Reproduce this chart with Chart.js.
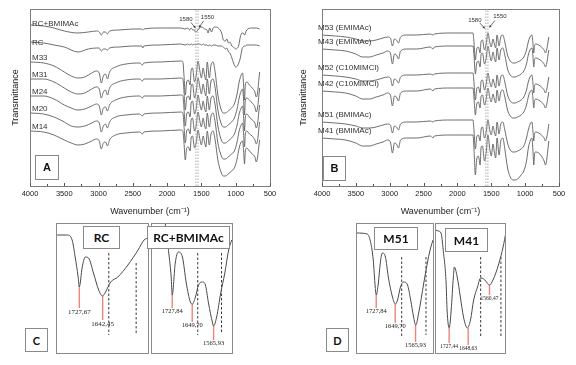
<!DOCTYPE html>
<html>
<head>
<meta charset="utf-8">
<script src="https://cdn.jsdelivr.net/npm/chart.js@4.4.0/dist/chart.umd.min.js"></script>
<style>
html, body { margin: 0; padding: 0; background: #fff; }
body { width: 576px; height: 365px; position: relative; overflow: hidden; }
canvas { position: absolute; }
.tag {
    position: absolute; box-sizing: border-box; border: 1px solid #8a8a8a; background: #fff;
    display: flex; align-items: center; justify-content: center;
    font-family: Lato, "Liberation Sans", sans-serif; font-weight: 700; font-size: 12px; color: #111; z-index: 5;
}
</style>
</head>
<body>
<canvas id="chartA" style="left:0;top:0" width="290" height="225"></canvas>
<canvas id="chartB" style="left:290px;top:0" width="286" height="225"></canvas>
<canvas id="zoomRC" style="left:56px;top:223px" width="93" height="131"></canvas>
<canvas id="zoomRCB" style="left:151px;top:223px" width="82" height="131"></canvas>
<canvas id="zoomM51" style="left:356px;top:223px" width="78" height="131"></canvas>
<canvas id="zoomM41" style="left:435px;top:223px" width="71" height="131"></canvas>
<div class="tag" style="left:83px;top:226px;width:37px;height:23px">RC</div>
<div class="tag" style="left:147px;top:226px;width:83px;height:23px">RC+BMIMAc</div>
<div class="tag" style="left:374px;top:227px;width:44px;height:23px">M51</div>
<div class="tag" style="left:445px;top:228px;width:43px;height:24px">M41</div>
<div class="tag" style="left:25px;top:328px;width:23px;height:24px;font-size:11px">C</div>
<div class="tag" style="left:326px;top:328px;width:23px;height:24px;font-size:11px">D</div>
<script>
Chart.defaults.font.family = '"Liberation Sans", Arial, sans-serif';

// wavenumber grid (cm-1) shared by the membrane spectra
const waveM = [4000, 3800, 3650, 3500, 3400, 3300, 3200, 3100, 3030, 2990,
    2960, 2930, 2900, 2870, 2840, 2750, 2600, 2400, 2360, 2340,
    2100, 1800, 1770, 1755, 1735, 1715, 1690, 1665, 1650, 1630,
    1600, 1575, 1550, 1520, 1500, 1475, 1455, 1435, 1415, 1385,
    1360, 1330, 1300, 1260, 1220, 1180, 1150, 1110, 1060, 1020,
    980, 950, 920, 900, 885, 872, 860, 840, 800, 760,
    720, 700, 680, 660, 650];

// panel A, transmittance (a.u., stacked)
const tM33 = [121, 120, 117, 111, 107, 105, 106, 110, 112, 110, 100, 107, 109, 104, 111, 116, 119, 120, 118, 120,
    121, 122, 121, 108, 88, 101, 103, 98, 113, 115, 101, 108, 122, 111, 105, 115, 108, 103, 121, 105,
    118, 121, 111, 88, 75, 70, 70, 72, 75, 79, 89, 101, 108, 110, 98, 83, 98, 101, 98, 95,
    91, 86, 91, 105, 111];
const tM31 = [104, 104, 101, 95, 91, 89, 90, 94, 96, 94, 85, 91, 93, 88, 95, 100, 103, 104, 102, 104,
    104, 105, 104, 92, 73, 85, 87, 83, 97, 99, 85, 92, 105, 95, 89, 99, 92, 87, 104, 89,
    102, 104, 95, 73, 61, 56, 56, 58, 61, 65, 74, 85, 92, 94, 83, 68, 83, 85, 83, 80,
    76, 71, 76, 89, 95];
const tM24 = [87, 87, 84, 78, 75, 73, 74, 77, 79, 77, 68, 75, 76, 72, 78, 83, 86, 87, 85, 87,
    87, 88, 87, 75, 57, 69, 71, 66, 80, 82, 69, 75, 88, 78, 73, 82, 75, 71, 87, 73,
    85, 87, 78, 57, 45, 40, 40, 42, 45, 49, 58, 69, 75, 77, 66, 52, 66, 69, 66, 63,
    60, 55, 60, 73, 78];
const tM20 = [70, 69, 66, 61, 57, 56, 57, 60, 62, 60, 51, 57, 59, 55, 61, 66, 68, 69, 67, 69,
    70, 71, 70, 58, 40, 52, 54, 49, 63, 65, 52, 58, 71, 61, 56, 65, 58, 54, 70, 56,
    67, 70, 61, 40, 29, 24, 24, 26, 29, 32, 41, 52, 58, 60, 49, 36, 49, 52, 49, 47,
    43, 39, 43, 56, 61];
const tM14 = [52, 51, 48, 43, 40, 38, 39, 42, 44, 42, 34, 40, 41, 37, 43, 48, 50, 51, 49, 51,
    52, 53, 52, 41, 23, 35, 36, 32, 45, 47, 35, 41, 53, 43, 38, 47, 41, 36, 52, 38,
    49, 52, 43, 23, 12, 7, 7, 9, 12, 15, 24, 35, 41, 42, 32, 19, 32, 35, 32, 29,
    26, 21, 26, 38, 43];

// regenerated cellulose spectra (panel A, top)
const waveRC = [4000, 3800, 3650, 3500, 3300, 3150, 3030, 2990, 2960, 2930,
    2900, 2870, 2840, 2700, 2500, 2370, 2355, 2340, 2100, 1800,
    1740, 1700, 1674, 1650, 1626, 1600, 1586, 1565, 1550, 1530,
    1501, 1470, 1452, 1420, 1403, 1380, 1353, 1330, 1303, 1254,
    1205, 1180, 1150, 1130, 1106, 1085, 1056, 1032, 1000, 975,
    955, 933, 908, 893, 870, 859, 839, 765, 700, 650];
const tRCBMIMAc = [158, 157, 155, 152, 150, 151, 152, 151, 148, 151, 151, 149, 152, 153, 154, 154, 153, 154, 155, 155,
    154, 155, 153, 155, 153, 153, 151, 152, 153, 155, 156, 155, 154, 153, 150, 155, 151, 155, 156, 155,
    150, 143, 142, 144, 140, 141, 137, 136, 134, 135, 138, 146, 150, 150, 148, 150, 153, 155, 155, 154];
const tRC = [141, 140, 138, 136, 131, 134, 135, 135, 132, 134, 134, 133, 135, 136, 137, 137, 135, 137, 138, 139,
    138, 139, 138, 139, 138, 139, 138, 139, 139, 139, 138, 139, 138, 138, 137, 138, 137, 138, 138, 137,
    137, 136, 134, 135, 131, 130, 125, 120, 116, 117, 120, 125, 134, 136, 137, 137, 138, 138, 138, 137];

// panel B
const tM53 = [148, 147, 146, 144, 142, 142, 143, 145, 146, 145, 137, 144, 143, 140, 146, 148, 148, 149, 148, 149,
    150, 150, 150, 140, 123, 134, 136, 130, 142, 143, 133, 139, 150, 140, 136, 144, 139, 135, 148, 137,
    146, 148, 141, 128, 122, 120, 120, 121, 123, 126, 133, 142, 147, 148, 140, 130, 138, 139, 138, 136,
    133, 130, 134, 142, 146];
const tM43 = [134, 133, 132, 129, 126, 126, 128, 130, 132, 130, 119, 129, 128, 124, 132, 134, 134, 136, 134, 136,
    137, 137, 137, 127, 109, 120, 122, 116, 129, 130, 119, 125, 137, 127, 122, 131, 125, 121, 135, 123,
    133, 135, 128, 114, 108, 106, 106, 107, 109, 112, 119, 129, 134, 135, 127, 116, 124, 125, 124, 122,
    119, 116, 120, 129, 133];
const tM52 = [108, 107, 106, 104, 102, 102, 103, 105, 106, 105, 97, 104, 103, 100, 106, 108, 108, 109, 108, 109,
    110, 110, 110, 100, 83, 94, 96, 90, 102, 103, 93, 99, 110, 100, 96, 104, 99, 95, 108, 97,
    106, 108, 101, 88, 82, 80, 80, 81, 83, 86, 93, 102, 107, 108, 100, 90, 98, 99, 98, 96,
    93, 90, 94, 102, 106];
const tM42 = [92, 91, 90, 87, 84, 84, 86, 88, 90, 88, 77, 87, 86, 82, 90, 92, 92, 94, 92, 94,
    95, 95, 95, 85, 68, 79, 81, 75, 87, 88, 78, 84, 95, 85, 81, 89, 84, 80, 93, 82,
    91, 93, 86, 73, 67, 65, 65, 66, 68, 71, 78, 87, 92, 93, 85, 75, 83, 84, 83, 81,
    78, 75, 79, 87, 91];
const tM51 = [61, 60, 59, 57, 55, 55, 56, 58, 59, 58, 50, 57, 56, 53, 59, 61, 61, 62, 61, 62,
    63, 63, 63, 52, 34, 46, 48, 42, 54, 56, 45, 51, 63, 52, 48, 57, 51, 47, 61, 49,
    59, 61, 53, 40, 33, 31, 31, 32, 34, 37, 45, 54, 60, 61, 52, 42, 50, 51, 50, 48,
    45, 42, 46, 54, 59];
const tM41 = [45, 44, 43, 40, 37, 37, 39, 41, 43, 41, 30, 40, 39, 35, 43, 45, 45, 47, 45, 47,
    48, 48, 48, 33, 8, 24, 27, 18, 36, 37, 22, 31, 48, 33, 27, 39, 31, 25, 45, 28,
    42, 45, 34, 15, 6, 3, 3, 4, 8, 12, 22, 36, 43, 45, 33, 18, 30, 31, 30, 27,
    22, 18, 24, 36, 42];

const xTicks = [4000, 3500, 3000, 2500, 2000, 1500, 1000, 500];
const bandLines = [1580, 1550];
const bandLabels = ['1580', '1550'];

// expanded carbonyl region (panels C and D)
const rcWave = [1809, 1772, 1754, 1743, 1732, 1728, 1717, 1706, 1694, 1676, 1657, 1643, 1632, 1613, 1587, 1550, 1513, 1491, 1476];
const rcT = [118, 118, 113, 96, 76, 66, 86, 96, 95, 80, 63, 57, 61, 71, 76, 88, 103, 113, 115];
const rcPeaks = [1727.67, 1642.45];
const rcPeakT = [66, 57];
const rcPeakEnd = [45, 33];
const rcPeakLabels = ['1727,67', '1642,45'];
const rcGuides = [1620, 1520];
const rcGuideTop = [100, 90];
const rcGuideEnd = [18, 20];

const rcbWave = [1756, 1748, 1744, 1732, 1728, 1716, 1704, 1688, 1673, 1657, 1649, 1637, 1625, 1609, 1598, 1586, 1570, 1566, 1554, 1538, 1522, 1507, 1495];
const rcbT = [131, 116, 106, 76, 58, 90, 101, 96, 70, 51, 49, 56, 68, 71, 68, 50, 30, 27, 36, 60, 80, 103, 113];
const rcbPeaks = [1727.84, 1649.70, 1565.93];
const rcbPeakT = [58, 49, 27];
const rcbPeakEnd = [45, 31, 13];
const rcbPeakLabels = ['1727,84', '1649,70', '1565,93'];
const rcbGuides = [1628, 1535];
const rcbGuideTop = [100, 100];
const rcbGuideEnd = [18, 20];

const m51Wave = [1807, 1765, 1753, 1740, 1732, 1728, 1719, 1711, 1703, 1690, 1678, 1661, 1649, 1640, 1628, 1615, 1599, 1586, 1574, 1565, 1553, 1532, 1515, 1503, 1494];
const m51T = [120, 119, 113, 93, 66, 58, 70, 90, 100, 96, 76, 56, 49, 53, 66, 71, 68, 53, 36, 28, 40, 70, 93, 106, 113];
const m51Peaks = [1727.84, 1649.70, 1565.93];
const m51PeakT = [58, 49, 28];
const m51PeakEnd = [45, 30, 11];
const m51PeakLabels = ['1727,84', '1649,70', '1565,93'];
const m51Guides = [1623, 1523];
const m51GuideTop = [96, 96];
const m51GuideEnd = [15, 18];

const m41Wave = [1782, 1773, 1761, 1752, 1740, 1736, 1727, 1719, 1710, 1706, 1694, 1681, 1668, 1652, 1639, 1626, 1610, 1597, 1584, 1576, 1560, 1546, 1534, 1521, 1504, 1492];
const m41T = [123, 122, 120, 103, 70, 43, 25, 43, 76, 86, 76, 56, 36, 25, 33, 53, 66, 75, 74, 72, 68, 73, 80, 90, 106, 121];
const m41Peaks = [1727.44, 1648.63, 1560.47];
const m41PeakT = [25, 25, 68];
const m41PeakEnd = [10, 8, 58];
const m41PeakLabels = ['1727,44', '1648,63', '1560,47'];
const m41Guides = [1597, 1513];
const m41GuideTop = [96, 96];
const m41GuideEnd = [16, 16];


function spectrum(wave, values, name, nameDy) {
    return {
        label: name,
        data: wave.map((w, i) => ({x: w, y: values[i]})),
        borderColor: '#5e5e5e',
        borderWidth: 0.9,
        pointRadius: 0,
        cubicInterpolationMode: 'monotone',
        showName: true,
        nameDy: nameDy
    };
}

function vLine(w, top, bottom, color, width, dash) {
    return {
        label: '',
        data: [{x: w, y: top}, {x: w, y: bottom}],
        borderColor: color,
        borderWidth: width,
        borderDash: dash,
        pointRadius: 0
    };
}

function strokeLine(ctx, x0, y0, x1, y1) {
    ctx.beginPath();
    ctx.moveTo(x0, y0);
    ctx.lineTo(x1, y1);
    ctx.stroke();
}

const spectraDeco = {
    id: 'spectraDeco',
    afterDraw(chart, args, o) {
        const {ctx, chartArea: a, scales: {x, y}} = chart;
        ctx.save();
        ctx.strokeStyle = '#7d7d7d';
        ctx.lineWidth = 1;
        ctx.strokeRect(Math.round(a.left) + 0.5, Math.round(a.top) + 0.5, Math.round(a.right - a.left), Math.round(a.bottom - a.top));

        // inward tick marks
        ctx.strokeStyle = '#555';
        xTicks.forEach((v, i) => {
            const px = Math.round(x.getPixelForValue(v)) + 0.5;
            strokeLine(ctx, px, a.bottom, px, a.bottom - 3);
            if (i < xTicks.length - 1) {
                const pm = Math.round(x.getPixelForValue((v + xTicks[i + 1]) / 2)) + 0.5;
                strokeLine(ctx, pm, a.bottom, pm, a.bottom - 2);
            }
        });

        // curve names
        ctx.font = '8px "Liberation Sans"';
        ctx.fillStyle = '#333';
        ctx.textAlign = 'left';
        ctx.textBaseline = 'alphabetic';
        chart.data.datasets.forEach(ds => {
            if (!ds.showName) return;
            const py = y.getPixelForValue(ds.data[0].y);
            ctx.fillText(ds.label, a.left + o.nameDx, py + ds.nameDy);
        });

        // 1580 / 1550 notes with arrows
        ctx.font = '6px "Liberation Sans"';
        ctx.textAlign = 'center';
        ctx.textBaseline = 'middle';
        ctx.strokeStyle = '#333';
        ctx.lineWidth = 0.7;
        bandLines.forEach((w, i) => {
            const n = o.notes[i];
            const px = x.getPixelForValue(w);
            ctx.fillText(bandLabels[i], px + n.tx, a.top + n.ty);
            const x0 = px + n.ax, y0 = a.top + n.ay;
            const x1 = px + n.bx, y1 = a.top + n.by;
            strokeLine(ctx, x0, y0, x1, y1);
            const ang = Math.atan2(y1 - y0, x1 - x0);
            ctx.beginPath();
            ctx.moveTo(x1, y1);
            ctx.lineTo(x1 - 2.5 * Math.cos(ang - 0.5), y1 - 2.5 * Math.sin(ang - 0.5));
            ctx.lineTo(x1 - 2.5 * Math.cos(ang + 0.5), y1 - 2.5 * Math.sin(ang + 0.5));
            ctx.closePath();
            ctx.fill();
        });

        // panel letter
        const b = o.box;
        ctx.fillStyle = '#fff';
        ctx.fillRect(a.left + b.dx, a.bottom - b.dy, b.w, b.h);
        ctx.strokeStyle = '#8a8a8a';
        ctx.lineWidth = 1;
        ctx.strokeRect(a.left + b.dx + 0.5, a.bottom - b.dy + 0.5, b.w, b.h);
        ctx.fillStyle = '#111';
        ctx.font = 'bold 11px "Liberation Sans"';
        ctx.fillText(o.letter, a.left + b.dx + b.w / 2 + 0.5, a.bottom - b.dy + b.h / 2 + 1);
        ctx.restore();
    }
};

const zoomDeco = {
    id: 'zoomDeco',
    afterDraw(chart, args, o) {
        const {ctx, chartArea: a, scales: {x, y}} = chart;
        ctx.save();
        ctx.strokeStyle = '#8a8a8a';
        ctx.lineWidth = 1;
        ctx.strokeRect(a.left + 0.5, a.top + 0.5, a.right - a.left - 1, a.bottom - a.top - 1);
        ctx.fillStyle = '#222';
        ctx.font = o.labelSize + 'px "Liberation Serif"';
        ctx.textAlign = 'center';
        ctx.textBaseline = 'top';
        o.peaks.forEach((w, i) => {
            ctx.fillText(o.labels[i], x.getPixelForValue(w), y.getPixelForValue(o.ends[i]) + 0.5);
        });
        ctx.restore();
    }
};

function mainChart(id, datasets, cfg) {
    const bands = bandLines.map(w => vLine(w, -3, 174, '#9a9a9a', 0.8, [1.5, 1.5]));
    return new Chart(document.getElementById(id), {
        type: 'line',
        data: {datasets: bands.concat(datasets)},
        options: {
            responsive: false,
            animation: false,
            devicePixelRatio: 1,
            layout: {padding: {left: 0, top: 9, right: cfg.padRight, bottom: 0}},
            plugins: {
                legend: {display: false},
                tooltip: {enabled: false},
                spectraDeco: cfg.deco
            },
            scales: {
                x: {
                    type: 'linear', reverse: true, min: 500, max: 4000,
                    afterBuildTicks: s => { s.ticks = xTicks.map(v => ({value: v})); },
                    afterFit: s => { s.height = 39; },
                    ticks: {autoSkip: false, maxRotation: 0, padding: 3, color: '#222', font: {size: 7.5},
                        callback: v => String(v)},
                    grid: {display: false, drawTicks: false},
                    border: {display: false},
                    title: {display: true, text: 'Wavenumber (cm⁻¹)', color: '#222', font: {size: 9}, padding: {top: 0, bottom: 8}}
                },
                y: {
                    min: -3, max: 174,
                    afterFit: s => { s.width = cfg.yWidth; },
                    ticks: {display: false},
                    grid: {display: false, drawTicks: false},
                    border: {display: false},
                    title: {display: true, text: 'Transmittance', color: '#222', font: {size: 9}, padding: {top: cfg.yTitlePad, bottom: 0}}
                }
            }
        },
        plugins: [spectraDeco]
    });
}

function zoomChart(id, p) {
    const sets = [spectrum(p.wave, p.t, '', 0)];
    sets[0].showName = false;
    sets[0].borderColor = '#4a4a4a';
    sets[0].borderWidth = 1;
    p.peaks.forEach((w, i) => sets.push(vLine(w, p.peakT[i], p.ends[i], '#f2837b', 1.4, [])));
    p.guides.forEach((w, i) => sets.push(vLine(w, p.guideTop[i], p.guideEnd[i], '#222', 0.9, [2.5, 2])));
    return new Chart(document.getElementById(id), {
        type: 'line',
        data: {datasets: sets},
        options: {
            responsive: false,
            animation: false,
            devicePixelRatio: 1,
            layout: {padding: 0},
            plugins: {
                legend: {display: false},
                tooltip: {enabled: false},
                zoomDeco: {peaks: p.peaks, ends: p.ends, labels: p.labels, labelSize: p.labelSize}
            },
            scales: {
                x: {type: 'linear', reverse: true, min: p.range[0], max: p.range[1], display: false},
                y: {min: -1, max: 130, display: false}
            }
        },
        plugins: [zoomDeco]
    });
}

mainChart('chartA', [
    spectrum(waveRC, tRCBMIMAc, 'RC+BMIMAc', 1),
    spectrum(waveRC, tRC, 'RC', 3),
    spectrum(waveM, tM33, 'M33', -2.5),
    spectrum(waveM, tM31, 'M31', -2.5),
    spectrum(waveM, tM24, 'M24', -2.5),
    spectrum(waveM, tM20, 'M20', -2.5),
    spectrum(waveM, tM14, 'M14', -2.5)
], {
    padRight: 20, yWidth: 30, yTitlePad: 10,
    deco: {
        nameDx: 2, letter: 'A',
        box: {dx: 5, dy: 31, w: 23, h: 24},
        notes: [
            {tx: -10, ty: 10.5, ax: -5, ay: 13.5, bx: -0.5, by: 19},
            {tx: 9.5, ty: 8, ax: 5.5, ay: 12, bx: 1, by: 18.5}
        ]
    }
});

mainChart('chartB', [
    spectrum(waveM, tM53, 'M53 (EMIMAc)', -5.5),
    spectrum(waveM, tM43, 'M43 (EMIMAc)', -5.5),
    spectrum(waveM, tM52, 'M52 (C10MIMCl)', -5.5),
    spectrum(waveM, tM42, 'M42 (C10MIMCl)', -5.5),
    spectrum(waveM, tM51, 'M51 (BMIMAc)', -5.5),
    spectrum(waveM, tM41, 'M41 (BMIMAc)', -5.5)
], {
    padRight: 17, yWidth: 32, yTitlePad: 8,
    deco: {
        nameDx: -4, letter: 'B',
        box: {dx: 1, dy: 30, w: 22, h: 24},
        notes: [
            {tx: -11, ty: 11, ax: -6, ay: 14, bx: -1, by: 19.5},
            {tx: 12, ty: 7.5, ax: 7, ay: 11.5, bx: 1.5, by: 18.5}
        ]
    }
});

zoomChart('zoomRC', {wave: rcWave, t: rcT, range: [1473, 1813], peaks: rcPeaks, peakT: rcPeakT, ends: rcPeakEnd,
    labels: rcPeakLabels, guides: rcGuides, guideTop: rcGuideTop, guideEnd: rcGuideEnd, labelSize: 7});
zoomChart('zoomRCB', {wave: rcbWave, t: rcbT, range: [1490, 1811], peaks: rcbPeaks, peakT: rcbPeakT, ends: rcbPeakEnd,
    labels: rcbPeakLabels, guides: rcbGuides, guideTop: rcbGuideTop, guideEnd: rcbGuideEnd, labelSize: 6.5});
zoomChart('zoomM51', {wave: m51Wave, t: m51T, range: [1490, 1811], peaks: m51Peaks, peakT: m51PeakT, ends: m51PeakEnd,
    labels: m51PeakLabels, guides: m51Guides, guideTop: m51GuideTop, guideEnd: m51GuideEnd, labelSize: 6.5});
zoomChart('zoomM41', {wave: m41Wave, t: m41T, range: [1492, 1786], peaks: m41Peaks, peakT: m41PeakT, ends: m41PeakEnd,
    labels: m41PeakLabels, guides: m41Guides, guideTop: m41GuideTop, guideEnd: m41GuideEnd, labelSize: 5.5});
</script>
</body>
</html>
